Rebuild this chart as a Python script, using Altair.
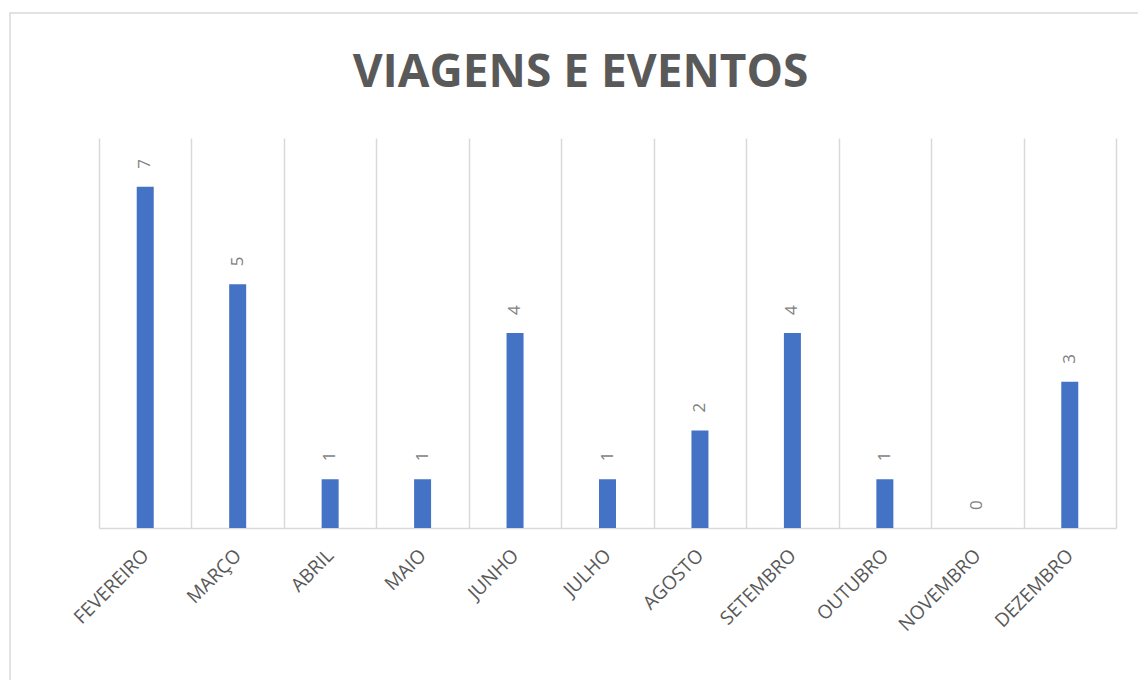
import altair as alt
import pandas as pd

months = ["FEVEREIRO", "MARÇO", "ABRIL", "MAIO", "JUNHO", "JULHO",
          "AGOSTO", "SETEMBRO", "OUTUBRO", "NOVEMBRO", "DEZEMBRO"]
values = [7, 5, 1, 1, 4, 1, 2, 4, 1, 0, 3]

df = pd.DataFrame({"mes": months, "valor": values})

x = alt.X("mes:N", sort=months, title=None,
          scale=alt.Scale(paddingInner=0, paddingOuter=0),
          axis=alt.Axis(labelAngle=-45, labelAlign="right", labelBaseline="middle",
                        labelPadding=24, labelFontSize=19, labelFont="Open Sans",
                        labelColor="#595959", ticks=False, grid=True, tickBand="extent",
                        gridColor="#d9d9d9", gridWidth=1.5, domainColor="#d9d9d9",
                        domainWidth=1.5, labelOverlap=False))
y = alt.Y("valor:Q", scale=alt.Scale(domain=[0, 8]), axis=None)

bars = alt.Chart(df).mark_bar(size=17, color="#4472C4").encode(x=x, y=y)
labels = alt.Chart(df).mark_text(angle=270, align="left", baseline="middle", dx=18,
                                  fontSize=17, font="Open Sans", color="#7f7f7f").encode(
    x=alt.X("mes:N", sort=months), y="valor:Q", text="valor:Q")

border = alt.Chart(pd.DataFrame({"a": [0]})).mark_rect(
    filled=False, stroke="#d9d9d9", strokeWidth=1.5).encode(
    x=alt.value(-89), x2=alt.value(1080), y=alt.value(-125), y2=alt.value(620))

chart = alt.layer(border, bars, labels).properties(
    width=1017, height=390,
    autosize=alt.AutoSizeParams(type="none"),
    padding={"left": 91, "top": 130, "right": 22, "bottom": 152},
    title=alt.TitleParams("VIAGENS E EVENTOS", fontSize=46, fontWeight="bold",
                          font="Open Sans", color="#595959", anchor="middle",
                          baseline="alphabetic", offset=-121, dx=-27),
).configure_view(stroke=None)

chart.save("out.html", embed_options={"renderer": "svg", "actions": False})
